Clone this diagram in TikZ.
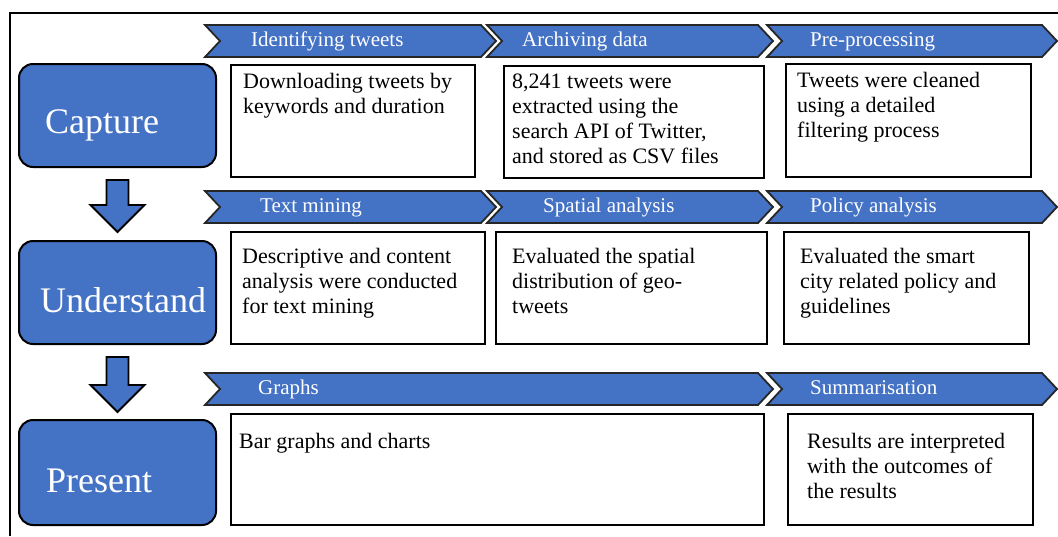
\documentclass[tikz,border=0pt]{standalone}
\usepackage{fontspec}
\setmainfont{Liberation Serif}
\usetikzlibrary{calc}
\definecolor{ofblue}{RGB}{68,114,196}
\tikzset{
  stage/.style={draw=black, line width=2pt, fill=ofblue, rounded corners=14pt, inner sep=0pt, anchor=north west},
  stagetxt/.style={text=white, font=\fontsize{36}{40}\selectfont, inner sep=0pt, anchor=base west},
  chev/.style={draw=black!85, line width=1.8pt, fill=ofblue, line join=miter},
  chevtxt/.style={text=white, font=\fontsize{21}{24}\selectfont, inner sep=0pt, anchor=base west},
  infobox/.style={draw=black, line width=2.4pt, fill=white, inner sep=0pt, anchor=north west},
  infotxt/.style={text=black, font=\fontsize{22}{25}\selectfont, inner sep=0pt, anchor=base west, align=left},
  downarrow/.style={draw=black, line width=1.8pt, fill=ofblue, line join=miter}
}
\newcommand{\chevpath}[4]{% x0, x1, ytop, ybot
  \path[chev] (#1,#3) -- ({#2-15},#3) -- (#2,{(#3+#4)/2}) -- ({#2-15},#4) -- (#1,#4) -- ({#1+15},{(#3+#4)/2}) -- cycle;}
\begin{document}
\begin{tikzpicture}[x=1pt,y=-1pt]
\useasboundingbox (0,0) rectangle (1058,536);
\fill[white] (0,0) rectangle (1058,536);
% outer frame
\draw[line width=2pt] (1058,13) -- (10,13) -- (10,536);

% stage boxes
\node[stage, minimum width=197pt, minimum height=103pt] (capture) at (18,63) {};
\node[stage, minimum width=197pt, minimum height=103pt] (understand) at (18,240) {};
\node[stage, minimum width=197pt, minimum height=105pt] (present) at (18,419) {};
\node[stagetxt] (capturet) at (45,133) {Capture};
\node[stagetxt] (understandt) at (40,312) {Understand};
\node[stagetxt] (presentt) at (46,492) {Present};

% down block arrows between stages
\path[downarrow] ($(capture.south)+(-11,12)$) -- ($(capture.south)+(11,12)$) -- ($(capture.south)+(11,37)$) -- ($(capture.south)+(27,37)$) -- ($(understand.north)+(0,-8)$) -- ($(capture.south)+(-27,37)$) -- ($(capture.south)+(-11,37)$) -- cycle;
\path[downarrow] ($(understand.south)+(-11,12)$) -- ($(understand.south)+(11,12)$) -- ($(understand.south)+(11,40)$) -- ($(understand.south)+(27,40)$) -- ($(present.north)+(0,-7)$) -- ($(understand.south)+(-27,40)$) -- ($(understand.south)+(-11,40)$) -- cycle;

% row 1 chevrons
\chevpath{205}{496}{25}{57}
\chevpath{487}{773}{25}{57}
\chevpath{767}{1057}{25}{57}
\node[chevtxt] (c11) at (251,46) {Identifying tweets};
\node[chevtxt] (c12) at (522,46) {Archiving data};
\node[chevtxt] (c13) at (810,46) {Pre-processing};

% row 2 chevrons
\chevpath{205}{496}{191}{223}
\chevpath{487}{773}{191}{223}
\chevpath{767}{1057}{191}{223}
\node[chevtxt] (c21) at (260,212) {Text mining};
\node[chevtxt] (c22) at (543,212) {Spatial analysis};
\node[chevtxt] (c23) at (810,212) {Policy analysis};

% row 3 chevrons
\chevpath{205}{773}{373}{405}
\chevpath{767}{1057}{373}{405}
\node[chevtxt] (c31) at (258,394) {Graphs};
\node[chevtxt] (c32) at (810,394) {Summarisation};

% row 1 boxes
\node[infobox, minimum width=244pt, minimum height=112pt] (b11) at (230,64) {};
\node[infobox, minimum width=260pt, minimum height=112pt] (b12) at (503,65) {};
\node[infobox, minimum width=245pt, minimum height=113pt] (b13) at (785,63) {};
\node[infotxt] (t11) at (243,113) {Downloading tweets by\\keywords and duration};
\node[infotxt] (t12) at (512,163) {8,241 tweets were\\extracted using the\\search API of Twitter,\\and stored as CSV files};
\node[infotxt] (t13) at (797,137) {Tweets were cleaned\\using a detailed\\filtering process};

% row 2 boxes
\node[infobox, minimum width=254pt, minimum height=112pt] (b21) at (230,231) {};
\node[infobox, minimum width=271pt, minimum height=112pt] (b22) at (495,231) {};
\node[infobox, minimum width=245pt, minimum height=112pt] (b23) at (783,231) {};
\node[infotxt] (t21) at (242,313) {Descriptive and content\\analysis were conducted\\for text mining};
\node[infotxt] (t22) at (512,313) {Evaluated the spatial\\distribution of geo-\\tweets};
\node[infotxt] (t23) at (800,313) {Evaluated the smart\\city related policy and\\guidelines};

% row 3 boxes
\node[infobox, minimum width=533pt, minimum height=111pt] (b31) at (230,413) {};
\node[infobox, minimum width=245pt, minimum height=111pt] (b32) at (787,413) {};
\node[infotxt] (t31) at (239,448) {Bar graphs and charts};
\node[infotxt] (t32) at (807,498) {Results are interpreted\\with the outcomes of\\the results};
\end{tikzpicture}
\end{document}
